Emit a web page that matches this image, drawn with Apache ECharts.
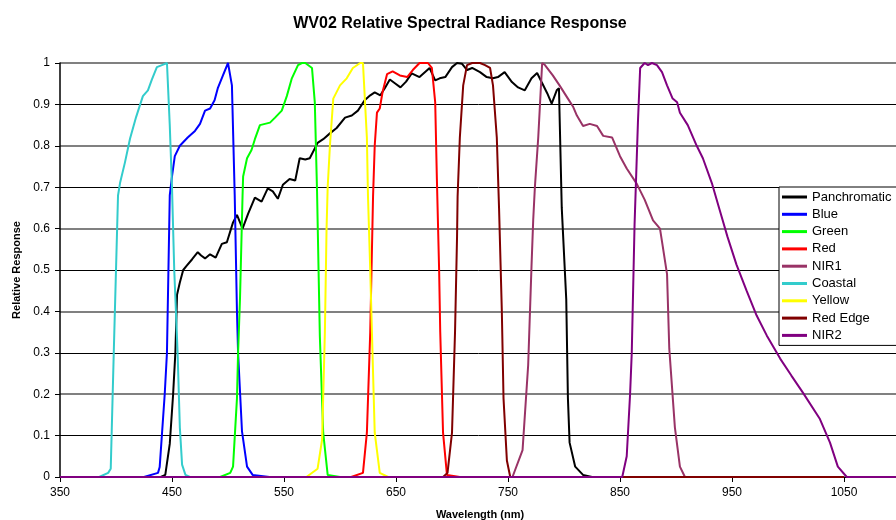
<!DOCTYPE html>
<html>
<head>
<meta charset="utf-8">
<script src="https://cdn.jsdelivr.net/npm/echarts@6/dist/echarts.min.js"></script>
<style>
  html, body { margin: 0; padding: 0; background: #fff; }
  #echarts { width: 896px; height: 520px; }
</style>
</head>
<body>
<div id="echarts"></div>
<script>
// band names, legend order
var bandNames = ['Panchromatic', 'Blue', 'Green', 'Red', 'NIR1', 'Coastal', 'Yellow', 'Red Edge', 'NIR2'];
var yTicks = [0, 0.1, 0.2, 0.3, 0.4, 0.5, 0.6, 0.7, 0.8, 0.9, 1];

// [wavelength nm, relative response]
var pan = [[440,0],[444,0.005],[448,0.08],[451,0.2],[453,0.3],[454.5,0.44],[457,0.47],[460,0.5],[463,0.51],[468,0.526],[473,0.543],[476,0.535],[479.5,0.528],[484,0.538],[489,0.53],[494.5,0.563],[499,0.567],[504.5,0.615],[508,0.633],[513,0.6],[518,0.636],[524,0.675],[530,0.665],[535.5,0.697],[540,0.69],[544.5,0.672],[549,0.706],[555,0.72],[560,0.716],[564,0.77],[569,0.767],[573,0.77],[580,0.807],[585,0.816],[591,0.83],[597,0.843],[604.5,0.868],[610.5,0.873],[616,0.885],[622,0.91],[627,0.922],[631,0.929],[636,0.922],[640,0.939],[644.5,0.96],[649,0.951],[654,0.941],[659,0.955],[664,0.975],[671,0.966],[680,0.988],[685,0.958],[689,0.963],[694,0.966],[700,0.99],[704.5,1.0],[709,0.998],[713.5,0.983],[718,0.988],[725,0.978],[731,0.966],[736.5,0.963],[741,0.966],[747,0.978],[753.5,0.954],[759,0.941],[765,0.934],[771,0.963],[776,0.976],[780,0.954],[785,0.927],[789,0.902],[793.5,0.934],[795.5,0.939],[798,0.65],[802,0.43],[803.5,0.19],[805,0.083],[810,0.025],[817,0.005],[825,0],[960,0]];
var blue = [[425,0],[437.5,0.01],[439,0.024],[443.5,0.2],[445.5,0.3],[448,0.68],[450,0.726],[452.5,0.775],[457,0.8],[464,0.82],[470.5,0.836],[475,0.853],[479.5,0.885],[484,0.89],[488,0.91],[491,0.94],[495.5,0.97],[500,1.0],[501.5,1.0],[503.5,0.946],[506,0.68],[508,0.4],[509,0.3],[512.5,0.11],[517,0.025],[522,0.005],[537,0]];
var green = [[493,0],[502,0.01],[504.5,0.025],[508,0.19],[509,0.3],[510.7,0.43],[513,0.68],[513.5,0.726],[517,0.77],[521,0.79],[524,0.816],[528.5,0.85],[537.5,0.856],[542,0.868],[548,0.885],[552.5,0.92],[557,0.963],[562.5,0.995],[566,1.0],[569,1.0],[575,0.988],[577.5,0.905],[579.5,0.69],[582,0.34],[585,0.107],[589,0.005],[600,0]];
var red = [[610,0],[620.5,0.01],[624,0.107],[627,0.35],[629.5,0.677],[631,0.8],[633,0.88],[635.5,0.89],[638,0.93],[642,0.973],[647,0.98],[653.5,0.97],[660,0.966],[665,0.983],[671,1.0],[674,1.0],[678.5,1.0],[682,0.988],[685,0.905],[686.5,0.72],[688.5,0.5],[689.5,0.35],[692,0.107],[695.5,0.005],[707,0]];
var nir1 = [[754,0],[763,0.065],[768,0.27],[771,0.51],[772.5,0.62],[774,0.7],[777,0.82],[780.5,1.0],[783,0.995],[790,0.97],[796,0.946],[803.5,0.914],[808,0.895],[811.5,0.873],[817,0.848],[823,0.853],[829.5,0.848],[835,0.824],[843,0.82],[850,0.775],[856,0.745],[865,0.708],[872,0.67],[879.5,0.62],[885.7,0.6],[888,0.56],[892,0.49],[894,0.31],[899,0.12],[903.5,0.025],[908,0],[920,0]];
var coastal = [[385,0],[393,0.01],[395.3,0.02],[398,0.3],[401.8,0.68],[403.6,0.71],[408,0.76],[412.5,0.817],[418,0.87],[424,0.92],[428.5,0.934],[432,0.96],[436.5,0.99],[441,0.995],[445.5,1.0],[448,0.85],[450,0.7],[452,0.5],[455,0.3],[457,0.12],[459,0.03],[462,0.005],[466,0]];
var yellow = [[570,0],[580,0.02],[584,0.09],[586.5,0.35],[588,0.6],[589,0.7],[591,0.8],[594,0.914],[600,0.946],[606,0.963],[611.5,0.988],[618,1.0],[620.5,1.0],[624,0.82],[625,0.677],[627,0.5],[628.5,0.35],[631,0.107],[635.5,0.01],[643,0]];
var redEdge = [[692,0],[696,0.01],[700,0.107],[702.7,0.35],[704.5,0.58],[705,0.677],[707,0.82],[710,0.946],[713.4,0.995],[718,1.0],[722,1.0],[725,1.0],[729.5,0.995],[734,0.988],[736.6,0.946],[740,0.82],[742,0.65],[744.5,0.4],[746,0.19],[749,0.04],[752,0],[1050,0]];
var nir2 = [[350,0],[852,0],[856,0.05],[859,0.2],[860.5,0.3],[863,0.61],[866,0.856],[868,0.988],[872,1.0],[875,0.995],[878.5,1.0],[883,0.995],[887.5,0.978],[892,0.946],[897,0.914],[901,0.905],[903.5,0.88],[910.5,0.85],[918.5,0.8],[924,0.77],[932,0.71],[939,0.645],[946,0.58],[954,0.513],[963,0.45],[972,0.39],[981,0.342],[993,0.286],[1003,0.245],[1013,0.205],[1028.5,0.14],[1037.5,0.083],[1044.5,0.025],[1052.5,0],[1100,0]];

var bandData = [pan, blue, green, red, nir1, coastal, yellow, redEdge, nir2];
var bandColors = ['#000000', '#0000ff', '#00ff00', '#ff0000', '#993366', '#33cccc', '#ffff00', '#800000', '#800080'];

var font = 'Liberation Sans, Arial, sans-serif';
var myChart = echarts.init(document.getElementById('echarts'));

var series = [];
for (var i = 0; i < bandNames.length; i++) {
    series.push({
        name: bandNames[i],
        type: 'line',
        data: bandData[i],
        symbol: 'none',
        color: bandColors[i],
        lineStyle: { width: 2, color: bandColors[i] },
        animation: false
    });
}

var option = {
    backgroundColor: '#fff',
    title: {
        text: 'WV02 Relative Spectral Radiance Response',
        left: 455,
        top: 11,
        textAlign: 'center',
        textStyle: { fontFamily: font, fontSize: 16, fontWeight: 'bold', color: '#000' }
    },
    legend: {
        data: bandNames,
        orient: 'vertical',
        left: 779,
        top: 187,
        icon: 'rect',
        itemWidth: 25,
        itemHeight: 3,
        itemGap: 3.3,
        padding: [3, 30, 3, 3],
        borderColor: '#000',
        borderWidth: 1,
        backgroundColor: '#fff',
        textStyle: { fontFamily: font, fontSize: 13, color: '#000', lineHeight: 14 }
    },
    grid: { left: 60, right: -4, top: 63, bottom: 43, outerBoundsMode: 'none', containLabel: false },
    xAxis: {
        type: 'value',
        min: 350,
        max: 1100,
        interval: 100,
        name: 'Wavelength (nm)',
        nameLocation: 'middle',
        nameGap: 32,
        nameTextStyle: { fontFamily: font, fontSize: 11, fontWeight: 'bold', color: '#000' },
        axisLine: { show: true, lineStyle: { color: '#000', width: 1 } },
        axisTick: { show: true, length: 5, lineStyle: { color: '#000' } },
        axisLabel: {
            fontFamily: font, fontSize: 12, color: '#000', margin: 10, showMaxLabel: false,
            formatter: function (v) { return String(v); }
        },
        splitLine: { show: false }
    },
    yAxis: [{
        type: 'value',
        min: 0,
        max: 1,
        interval: 0.1,
        name: 'Relative Response',
        nameLocation: 'middle',
        nameGap: 38,
        nameTextStyle: { fontFamily: font, fontSize: 11, fontWeight: 'bold', color: '#000' },
        axisLine: { show: true, lineStyle: { color: '#000', width: 1.5 } },
        axisTick: { show: true, length: 5, lineStyle: { color: '#000' } },
        axisLabel: {
            fontFamily: font, fontSize: 12, color: '#000', margin: 10,
            formatter: function (v) { return String(Math.round(v * 10) / 10); }
        },
        splitLine: { show: true, lineStyle: { color: '#000', width: 1 } }
    }, {
        type: 'value',
        min: 0,
        max: 1,
        interval: 0.2,
        show: true,
        position: 'left',
        axisLine: { show: false },
        axisTick: { show: false },
        axisLabel: { show: false },
        splitLine: { show: true, lineStyle: { color: '#808080', width: 2 } }
    }],
    series: series
};
myChart.setOption(option);
</script>
</body>
</html>
